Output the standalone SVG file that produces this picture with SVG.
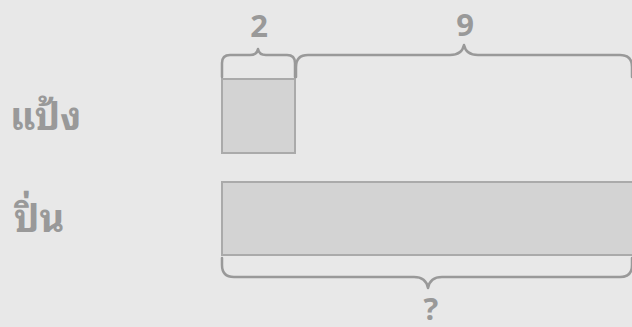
<svg xmlns="http://www.w3.org/2000/svg" width="632" height="327" viewBox="0 0 632 327">
<style>
.bar{fill:#d3d3d3;stroke:#aaaaaa;stroke-width:2}
.brace{fill:none;stroke:#999999;stroke-width:2.5;stroke-linecap:round;stroke-linejoin:round}
.num{font-family:"Open Sans","DejaVu Sans",sans-serif;font-weight:bold;font-size:31px;fill:#999999;text-anchor:middle}
.lbl{font-family:"Noto Sans Thai Looped","Noto Serif Thai","Noto Sans Thai","Noto Sans",sans-serif;font-weight:bold;font-size:38px;fill:#999999}
</style>
<rect width="632" height="327" fill="#e8e8e8"/>
<g id="label-pang"><text class="lbl" x="10" y="130">แป้ง</text></g>
<g id="label-pin"><text class="lbl" x="14" y="232">ปิ่น</text></g>
<g id="bar-pang"><rect class="bar" x="222" y="79" width="73" height="74"/></g>
<g id="bar-pin"><rect class="bar" x="222" y="182" width="414" height="73"/></g>
<g id="connectors">
<path class="brace" d="M222,77 L222,63 Q222,55 230,55 L250,55 Q257,55 258,49 Q259,55 266,55 L287,55 Q295,55 295,63 L295,77"/>
<path class="brace" d="M296,77 L296,67 Q296,55 308,55 L450,55 Q462,55 464,45 Q466,55 478,55 L620,55 Q632,55 632,67 L632,77"/>
<path class="brace" d="M222,258 L222,265 Q222,277 234,277 L414,277 Q426,277 428,288 Q430,277 442,277 L620,277 Q632,277 632,265 L632,258"/>
</g>
<g id="label-2"><text class="num" x="259" y="37">2</text></g>
<g id="label-9"><text class="num" x="465" y="36">9</text></g>
<g id="label-q"><text class="num" x="431" y="320">?</text></g>
</svg>
